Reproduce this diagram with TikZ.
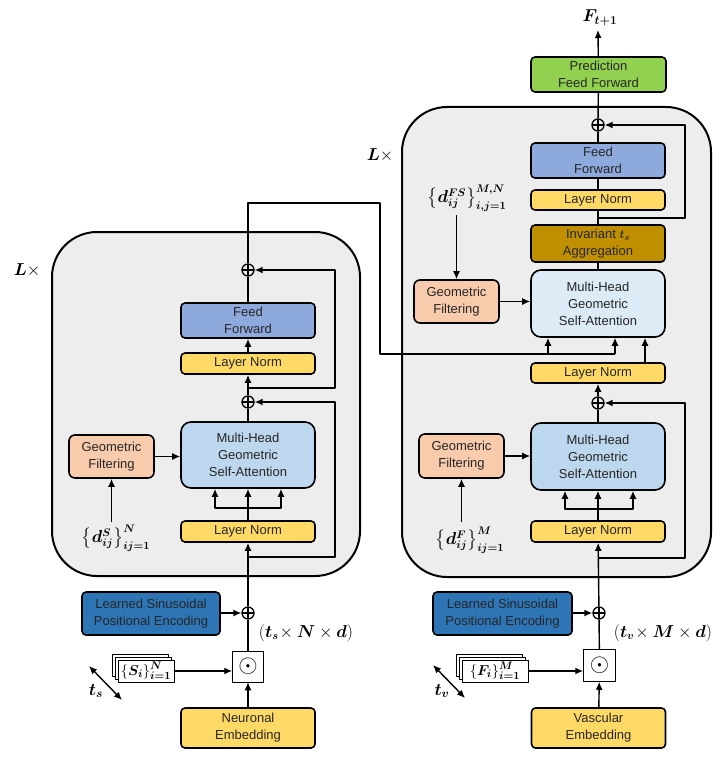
\documentclass[tikz,border=0pt]{standalone}
\usepackage{fontspec}
\usepackage{amsmath,bm}
\setmainfont{Liberation Sans}
\usetikzlibrary{positioning,arrows.meta}
\definecolor{lnyellow}{HTML}{FFD966}
\definecolor{ffblue}{HTML}{8EA9DB}
\definecolor{attblue}{HTML}{BDD7EE}
\definecolor{crossblue}{HTML}{DDEBF7}
\definecolor{gfpeach}{HTML}{F8CBAD}
\definecolor{peblue}{HTML}{2E75B6}
\definecolor{agggold}{HTML}{BF8F00}
\definecolor{predgreen}{HTML}{92D050}
\definecolor{panelgray}{HTML}{EDEDED}
\definecolor{txtgray}{HTML}{262626}
\tikzset{
  blk/.style={draw, rounded corners=4pt, line width=1.6pt, align=center, text=txtgray,
    font=\fontsize{13}{17}\selectfont, minimum width=134pt, inner sep=0pt},
  addop/.style={circle, draw, line width=1.3pt, minimum size=12pt, inner sep=0pt,
    path picture={\draw[line width=1.3pt] (path picture bounding box.north) -- (path picture bounding box.south)
      (path picture bounding box.west) -- (path picture bounding box.east);}},
  dotop/.style={draw, line width=0.5pt, fill=white, minimum size=31pt, inner sep=0pt},
  sheet/.style={draw, line width=0.5pt, fill=white, inner sep=0pt},
  panel/.style={draw, line width=2pt, fill=panelgray, rounded corners=45pt},
  mlabel/.style={font=\fontsize{16}{18}\selectfont, inner sep=1pt},
  lnk/.style={line width=1.4pt},
  arr/.style={line width=1.4pt, ->},
}
\begin{document}
\begin{tikzpicture}[x=1pt, y=-1pt, >={Latex[length=8pt,width=7pt]}, line join=round]
\useasboundingbox (0,0) rectangle (718,765);
% panels
\draw[panel] (52,232) rectangle (360,576);
\draw[panel] (402,107) rectangle (711,577);
\node[font=\fontsize{19}{20}\selectfont] at (27,270) {$\bm{L}\times$};
\node[font=\fontsize{19}{20}\selectfont] at (380,155) {$\bm{L}\times$};

% ---- neuronal encoder (left)
\node[blk, fill=lnyellow, minimum height=40pt] (lEmb) at (248,728) {Neuronal\\Embedding};
\node[dotop] (lDot) at (248,666.5) {\fontsize{24}{24}\selectfont $\odot$};
\node[sheet, minimum width=56pt, minimum height=22pt] (lS3) at (140,665) {};
\node[sheet, minimum width=56pt, minimum height=22pt] (lS2) at (143,668) {};
\node[sheet, minimum width=56pt, minimum height=22pt] (lS) at (146,671) {\fontsize{15}{16}\selectfont $\{\bm{S_i}\}_{\bm{i=1}}^{\bm{N}}$};
\node[blk, fill=peblue, minimum width=138pt, minimum height=43pt] (lPE) at (151,613.5) {Learned Sinusoidal\\Positional Encoding};
\node[addop] (lPos) at (248,613) {};
\node[mlabel] at (306,633) {$(\bm{t_s}\!\times \bm{N}\times \bm{d})$};
\draw[<->, line width=1.4pt] (89,666) -- (122,700);
\node[mlabel, font=\fontsize{18}{18}\selectfont] at (96,691) {$\bm{t_s}$};

\node[blk, fill=lnyellow, minimum height=21pt] (lLN1) at (248,531.5) {Layer Norm};
\node[blk, fill=attblue, minimum height=66pt, rounded corners=10pt] (lAtt) at (248,455) {Multi-Head\\Geometric\\Self-Attention};
\node[blk, fill=gfpeach, minimum width=85pt, minimum height=43pt, rounded corners=6pt] (lGF) at (111.5,456.5) {Geometric\\Filtering};
\node[mlabel] (lDS) at (116,538) {$\big\{\bm{d_{ij}^{S}}\big\}_{\bm{ij=1}}^{\bm{N}}$};
\node[addop] (lAdd1) at (248,402) {};
\node[blk, fill=lnyellow, minimum height=21pt] (lLN2) at (248,363.5) {Layer Norm};
\node[blk, fill=ffblue, minimum height=35pt] (lFF) at (248,320.5) {Feed\\Forward};
\node[addop] (lAdd2) at (248,270) {};

\coordinate (lSk1) at (248,557);
\coordinate (lBr) at (248,508);
\coordinate (lSk2) at (248,388);
\coordinate (lOut) at (248,203);

\draw[arr] (lEmb) -- (lDot);
\draw[arr] (lS.east) -- (lS.east -| lDot.west);
\draw[lnk] (lDot) -- (lPos);
\draw[arr] (lPE.east |- lPos) -- (lPos);
\draw[arr] (lPos) -- (lLN1);
\draw[arr] (lSk1) -| (335,402) -- (lAdd1);
\draw[lnk] (lLN1.north) -- (lBr);
\draw[arr] (lBr) -- (lAtt.south);
\draw[arr] (lBr) -| ([xshift=-33pt]lAtt.south);
\draw[arr] (lBr) -| ([xshift=33pt]lAtt.south);
\draw[arr] (lGF.east) -- (lGF.east -| lAtt.west);
\draw[arr] (lGF.south |- 0,522) -- (lGF.south);
\draw[lnk] (lAtt) -- (lAdd1);
\draw[arr] (lAdd1) -- (lLN2);
\draw[arr] (lSk2) -| (335,270) -- (lAdd2);
\draw[arr] (lLN2) -- (lFF);
\draw[lnk] (lFF) -- (lAdd2);

% ---- vascular decoder (right)
\node[blk, fill=lnyellow, minimum height=40pt] (rEmb) at (598.5,728) {Vascular\\Embedding};
\node[dotop, minimum size=32pt] (rDot) at (599.5,665.5) {\fontsize{24}{24}\selectfont $\odot$};
\node[sheet, minimum width=66pt, minimum height=22pt] (rF3) at (489,665) {};
\node[sheet, minimum width=66pt, minimum height=22pt] (rF2) at (492,668) {};
\node[sheet, minimum width=66pt, minimum height=22pt] (rF) at (495,671) {\fontsize{15}{16}\selectfont $\{\bm{F_i}\}_{\bm{i=1}}^{\bm{M}}$};
\node[blk, fill=peblue, minimum width=139pt, minimum height=43pt] (rPE) at (502.5,613.5) {Learned Sinusoidal\\Positional Encoding};
\node[addop] (rPos) at (599,613) {};
\node[mlabel] at (663,633) {$(\bm{t_v}\!\times \bm{M}\times \bm{d})$};
\draw[<->, line width=1.4pt] (433,665) -- (465,698);
\node[mlabel, font=\fontsize{18}{18}\selectfont] at (442,691) {$\bm{t_v}$};

\node[blk, fill=lnyellow, minimum height=21pt] (rLN1) at (598,531.5) {Layer Norm};
\node[blk, fill=attblue, minimum height=67pt, rounded corners=10pt] (rAtt) at (598,456.5) {Multi-Head\\Geometric\\Self-Attention};
\node[blk, fill=gfpeach, minimum width=85pt, minimum height=44pt, rounded corners=6pt] (rGF1) at (461.5,456) {Geometric\\Filtering};
\node[mlabel] (rDF) at (470,540) {$\big\{\bm{d_{ij}^{F}}\big\}_{\bm{ij=1}}^{\bm{M}}$};
\node[addop] (rAdd2) at (598,403) {};
\node[blk, fill=lnyellow, minimum height=20pt] (rLN2) at (598,373) {Layer Norm};
\node[blk, fill=crossblue, minimum height=67pt, rounded corners=10pt] (rCross) at (598,303.5) {Multi-Head\\Geometric\\Self-Attention};
\node[blk, fill=gfpeach, minimum width=85pt, minimum height=43pt, rounded corners=6pt] (rGF2) at (456.5,301.5) {Geometric\\Filtering};
\node[mlabel] (rDFS) at (467,198) {$\big\{\bm{d_{ij}^{FS}}\big\}_{\bm{i,j=1}}^{\bm{M,N}}$};
\node[blk, fill=agggold, minimum height=37pt] (rAgg) at (598,243.5) {Invariant $\bm{t_s}$\\Aggregation};
\node[blk, fill=lnyellow, minimum height=20pt] (rLN3) at (598,200) {Layer Norm};
\node[blk, fill=ffblue, minimum height=35pt] (rFF) at (598,160.5) {Feed\\Forward};
\node[addop] (rAdd3) at (598,125) {};
\node[blk, fill=predgreen, minimum width=135pt, minimum height=35pt] (rPred) at (598.5,74.5) {Prediction\\Feed Forward};
\node[font=\fontsize{18}{18}\selectfont] (rOut) at (600,18) {$\bm{F_{t+1}}$};

\coordinate (rSk1) at (598,558);
\coordinate (rBr) at (598,509);
\coordinate (rSk2) at (598,218);
\coordinate (cBend) at (380,354);

\draw[arr] (rEmb) -- (rDot);
\draw[arr] (rF.east) -- (rF.east -| rDot.west);
\draw[lnk] (rDot) -- (rPos);
\draw[arr] (rPE.east |- rPos) -- (rPos);
\draw[arr] (rPos) -- (rLN1);
\draw[arr] (rSk1) -| (685,403) -- (rAdd2);
\draw[lnk] (rLN1.north) -- (rBr);
\draw[arr] (rBr) -- (rAtt.south);
\draw[arr] (rBr) -| ([xshift=-33pt]rAtt.south);
\draw[arr] (rBr) -| ([xshift=35pt]rAtt.south);
\draw[arr] (rGF1.east) -- (rGF1.east -| rAtt.west);
\draw[arr] (rGF1.south |- 0,522) -- (rGF1.south);
\draw[lnk] (rAtt) -- (rAdd2);
\draw[arr] (rAdd2) -- (rLN2);
\draw[arr] ([xshift=47pt]rLN2.north) -- ([xshift=47pt]rCross.south);
\draw[arr] (rGF2.east) -- (rGF2.east -| rCross.west);
\draw[arr] (rGF2.north |- 0,215) -- (rGF2.north);
\draw[lnk] (rCross) -- (rAgg);
\draw[lnk] (rAgg) -- (rLN3);
\draw[arr] (rSk2) -| (685,125) -- (rAdd3);
\draw[lnk] (rLN3) -- (rFF);
\draw[lnk] (rFF) -- (rAdd3);
\draw[lnk] (rAdd3) -- (rPred);
\draw[arr] (rPred) -- (598,30);

% encoder memory into cross attention
\draw[lnk] (lAdd2) -- (lOut) -- (lOut -| cBend) -- (cBend) -- (cBend -| 615,0);
\draw[arr] (548,354) -- ([xshift=-50pt]rCross.south);
\draw[arr] (615,354) -- ([xshift=17pt]rCross.south);
\end{tikzpicture}
\end{document}
